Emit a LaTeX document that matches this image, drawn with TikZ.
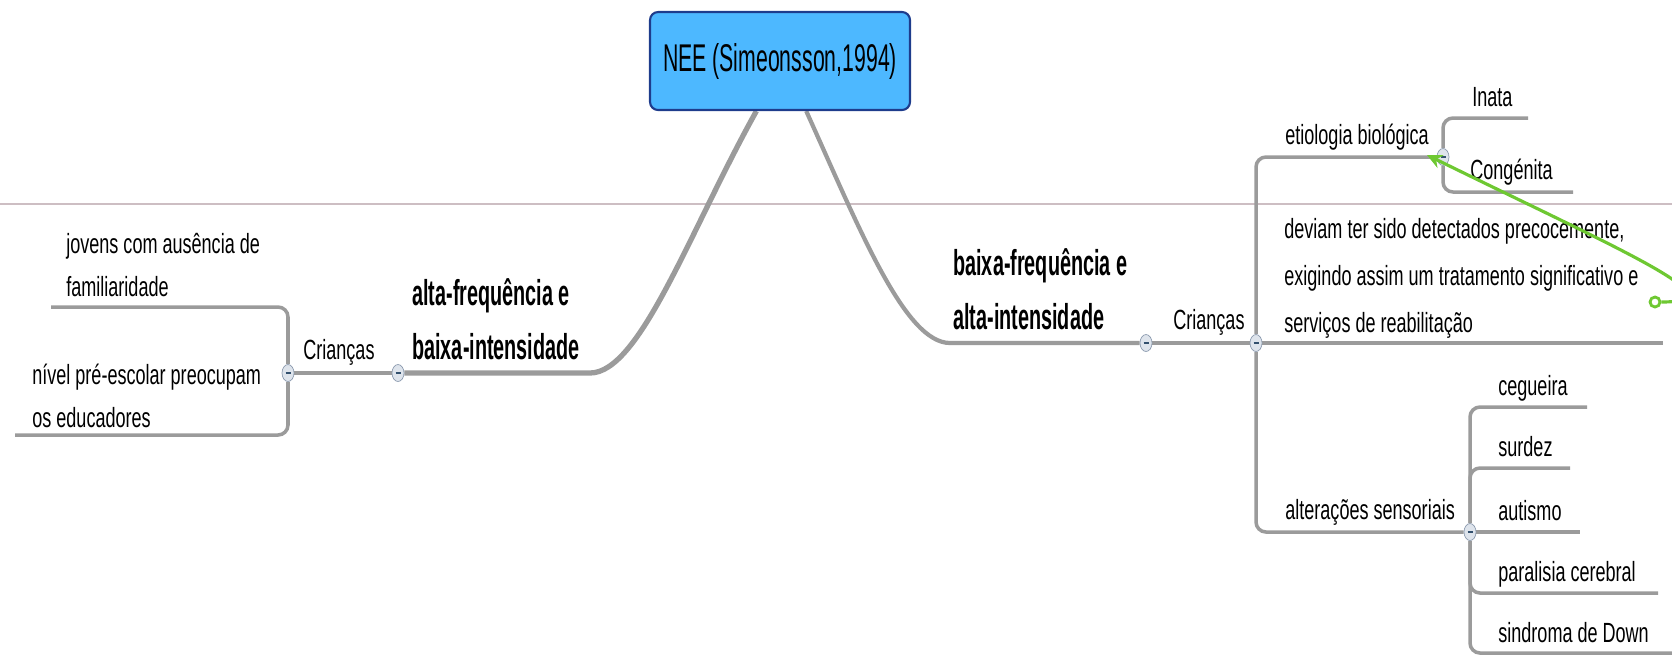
\documentclass[tikz,border=0pt]{standalone}
\usepackage{fontspec}
\setmainfont{Liberation Sans}
\newfontfamily\mapfont{Liberation Sans}[FakeStretch=0.65]
\newfontfamily\headfont{Liberation Sans}[FakeStretch=0.55]
\usetikzlibrary{
  shapes.geometric,
  positioning,
  calc,
  backgrounds,
  arrows.meta}
\definecolor{rootcolor}{RGB}{77,184,255}
\definecolor{rootframe}{RGB}{30,60,140}
\definecolor{branchcolor}{RGB}{155,155,155}
\definecolor{togglecolor}{RGB}{222,228,236}
\definecolor{toggleframe}{RGB}{140,155,175}
\definecolor{togglemark}{RGB}{50,80,110}
\definecolor{linkcolor}{RGB}{110,200,50}
\definecolor{pagecolor}{RGB}{205,190,195}
\newcommand{\collapsebar}{{\color{togglemark}\rule{0.1cm}{0.05cm}}}
\tikzset{
  %% root : the central topic
  root/.style={
    rectangle,
    rounded corners=0.16cm,
    draw=rootframe,
    line width=1.2pt,
    fill=rootcolor,
    minimum width=5.2cm,
    minimum height=1.96cm,
    align=center,
    font=\headfont\fontsize{22}{26}\selectfont
  },
  %% topic : label of a main branch
  topic/.style={
    anchor=south west,
    inner sep=0pt,
    text depth=0pt,
    align=left,
    font=\headfont\bfseries\fontsize{20.5}{31}\selectfont
  },
  %% leaf : ordinary label, sits on its line
  leaf/.style={
    anchor=south west,
    inner sep=0pt,
    text depth=0pt,
    align=left,
    font=\mapfont\fontsize{15.8}{26.7}\selectfont
  },
  %% tightleaf : leaf with closer lines
  tightleaf/.style={
    leaf,
    font=\mapfont\fontsize{15.8}{24.8}\selectfont
  },
  %% toggle : collapse button on a branch
  toggle/.style={
    ellipse,
    draw=toggleframe,
    fill=togglecolor,
    minimum width=0.24cm,
    minimum height=0.34cm,
    inner sep=0pt
  },
  %% main : line from the central topic
  main/.style={draw=branchcolor, line width=3pt},
  %% branch : grey line under a label
  branch/.style={draw=branchcolor, line width=2pt, rounded corners=0.2cm},
  %% link : green relation arrow
  link/.style={draw=linkcolor, line width=1.8pt, -{Stealth[length=0.3cm, width=0.28cm]}},
  pageline/.style={draw=pagecolor, line width=0.6pt}
}

\begin{document}
\begin{tikzpicture}[x=0.02cm, y=-0.02cm]
  \useasboundingbox (0,0) rectangle (1672,654);

  %% Central topic
  \node (root) [root] at (780,61) {NEE (Simeonsson,1994)};

  %% Left side
  \node (alta) [topic] at (412,360) {alta-frequência e\\baixa-intensidade};
  \node (crL) [leaf] at (303,360) {Crianças};
  \node (jov) [tightleaf] at (66,297) {jovens com ausência de\\familiaridade};
  \node (niv) [tightleaf] at (32,428) {nível pré-escolar preocupam\\os educadores};

  \coordinate (jov-end) at (51,307);
  \coordinate (niv-end) at (15,435);

  \node (tL1) [toggle] at (398,373) {\collapsebar};
  \node (tL2) [toggle] at (288,373) {\collapsebar};

  %% Right side
  \node (baixa) [topic] at (953,330) {baixa-frequência e\\alta-intensidade};
  \node (crR) [leaf] at (1173,330) {Crianças};
  \node (etio) [leaf] at (1285,145) {etiologia biológica};
  \node (inata) [leaf] at (1472,107) {Inata};
  \node (cong) [leaf] at (1470,180) {Congénita};
  \node (dev) [leaf] at (1284,333) {deviam ter sido detectados precocemente,\\exigindo assim um tratamento significativo e\\serviços de reabilitação};
  \node (alter) [leaf] at (1285,520) {alterações sensoriais};
  \node (ceg) [leaf] at (1498,396) {cegueira};
  \node (surd) [leaf] at (1498,457) {surdez};
  \node (aut) [leaf] at (1498,521) {autismo};
  \node (para) [leaf] at (1498,582) {paralisia cerebral};
  \node (down) [leaf] at (1498,643) {sindroma de Down};

  \coordinate (inata-end) at (1528,118);
  \coordinate (cong-end) at (1573,192);
  \coordinate (dev-end) at (1663,343);
  \coordinate (ceg-end) at (1587,407);
  \coordinate (surd-end) at (1570,468);
  \coordinate (aut-end) at (1580,532);
  \coordinate (para-end) at (1658,593);
  \coordinate (down-end) at (1690,653);
  \coordinate (etio-tip) at (1427,155);

  \node (tR1) [toggle] at (1146,343) {\collapsebar};
  \node (tR2) [toggle] at (1256,343) {\collapsebar};
  \node (tE) [toggle] at (1443,157) {\collapsebar};
  \node (tA) [toggle] at (1470,532) {\collapsebar};

  %% Connections
  \begin{scope}[on background layer]
    \draw [pageline] (0,204) -- (1672,204);

    \draw [main] ($(root.south west)!0.41!(root.south east)$)
      .. controls (690,230) and (640,373) .. (590,373) -- (tL1);
    \draw [branch] (tL1) -- (tL2);
    \draw [branch] (jov-end) -| (tL2) |- (niv-end);

    \draw [main, line width=2.4pt] ($(root.south west)!0.6!(root.south east)$)
      .. controls (860,230) and (905,343) .. (950,343) -- (tR1);
    \draw [branch] (tR1) -- (tR2);
    \draw [branch] (tE) -| (tR2) |- (tA);
    \draw [branch] (tR2) -- (dev-end);
    \draw [branch] (inata-end) -| (tE) |- (cong-end);
    \draw [branch] (tA) |- (ceg-end);
    \draw [branch] (tA) |- (surd-end);
    \draw [branch] (tA) -- (aut-end);
    \draw [branch] (tA) |- (para-end);
    \draw [branch] (tA) |- (down-end);
  \end{scope}

  %% Relation
  \node (linkstart) [circle, draw=linkcolor, fill=white, line width=1.6pt,
    minimum size=0.2cm, inner sep=0pt] at (1655,302) {};
  \draw [link] (linkstart.east) .. controls +(80,0) and +(200,98) .. (etio-tip);

\end{tikzpicture}
\end{document}
